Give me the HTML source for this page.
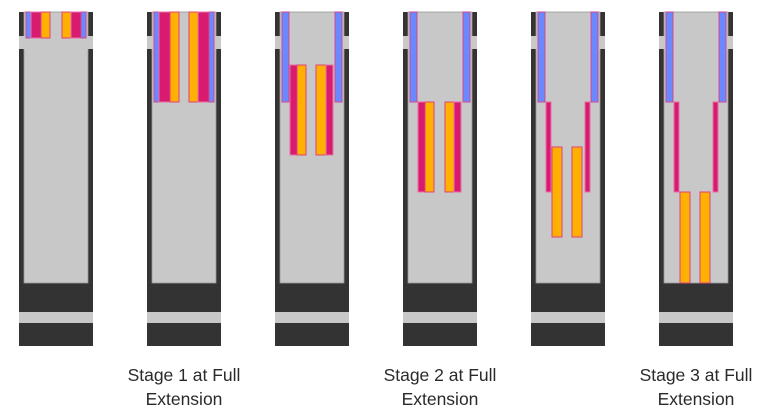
<!DOCTYPE html>
<html><head><meta charset="utf-8"><style>
body{margin:0;background:#fff;width:768px;height:418px;overflow:hidden}
svg{display:block}
text{font-family:"Liberation Sans",sans-serif;font-size:17.5px;fill:#2a2a2a}
</style></head><body>
<svg width="768" height="418" viewBox="0 0 768 418">
<defs>
<g id="frame">
<rect x="0" y="12" width="74" height="334" fill="#333"/>
<rect x="5" y="12" width="64" height="271" fill="#c8c8c8" stroke="#999" stroke-width="0.8"/>
<rect x="0" y="36" width="74" height="13" fill="#c8c8c8"/>
<rect x="0" y="312" width="74" height="11" fill="#c8c8c8"/>
</g>
</defs>
<g fill="none" stroke-width="1">
<g transform="translate(19,0)"><use href="#frame"/>
<rect x="7" y="12" width="5" height="26" fill="#6a88ff" stroke="#d04a90"/>
<rect x="12" y="12" width="10" height="26" fill="#d81b6f" stroke="#e870a8"/>
<rect x="22" y="12" width="9" height="26" fill="#ffb000" stroke="#e04080"/>
<rect x="43" y="12" width="9" height="26" fill="#ffb000" stroke="#e04080"/>
<rect x="52" y="12" width="10" height="26" fill="#d81b6f" stroke="#e870a8"/>
<rect x="62" y="12" width="5" height="26" fill="#6a88ff" stroke="#d04a90"/>
</g>
<g transform="translate(147,0)"><use href="#frame"/>
<rect x="7" y="12" width="5" height="90" fill="#6a88ff" stroke="#d04a90"/>
<rect x="12" y="12" width="11" height="90" fill="#d81b6f" stroke="#e870a8"/>
<rect x="23" y="12" width="9" height="90" fill="#ffb000" stroke="#e04080"/>
<rect x="42" y="12" width="9" height="90" fill="#ffb000" stroke="#e04080"/>
<rect x="51" y="12" width="11" height="90" fill="#d81b6f" stroke="#e870a8"/>
<rect x="62" y="12" width="5" height="90" fill="#6a88ff" stroke="#d04a90"/>
</g>
<g transform="translate(275,0)"><use href="#frame"/>
<rect x="7" y="12" width="7" height="90" fill="#6a88ff" stroke="#d04a90"/>
<rect x="60" y="12" width="7" height="90" fill="#6a88ff" stroke="#d04a90"/>
<rect x="15" y="65" width="7" height="90" fill="#d81b6f" stroke="#e870a8"/>
<rect x="22" y="65" width="9" height="90" fill="#ffb000" stroke="#e04080"/>
<rect x="41" y="65" width="10" height="90" fill="#ffb000" stroke="#e04080"/>
<rect x="51" y="65" width="7" height="90" fill="#d81b6f" stroke="#e870a8"/>
</g>
<g transform="translate(403,0)"><use href="#frame"/>
<rect x="7" y="12" width="7" height="90" fill="#6a88ff" stroke="#d04a90"/>
<rect x="60" y="12" width="7" height="90" fill="#6a88ff" stroke="#d04a90"/>
<rect x="15" y="102" width="7" height="90" fill="#d81b6f" stroke="#e870a8"/>
<rect x="22" y="102" width="9" height="90" fill="#ffb000" stroke="#e04080"/>
<rect x="42" y="102" width="9" height="90" fill="#ffb000" stroke="#e04080"/>
<rect x="51" y="102" width="7" height="90" fill="#d81b6f" stroke="#e870a8"/>
</g>
<g transform="translate(531,0)"><use href="#frame"/>
<rect x="7" y="12" width="7" height="90" fill="#6a88ff" stroke="#d04a90"/>
<rect x="60" y="12" width="7" height="90" fill="#6a88ff" stroke="#d04a90"/>
<rect x="15" y="102" width="5" height="90" fill="#d81b6f" stroke="#e870a8"/>
<rect x="54" y="102" width="5" height="90" fill="#d81b6f" stroke="#e870a8"/>
<rect x="21" y="147" width="10" height="90" fill="#ffb000" stroke="#e04080"/>
<rect x="41" y="147" width="10" height="90" fill="#ffb000" stroke="#e04080"/>
</g>
<g transform="translate(659,0)"><use href="#frame"/>
<rect x="7" y="12" width="7" height="90" fill="#6a88ff" stroke="#d04a90"/>
<rect x="60" y="12" width="7" height="90" fill="#6a88ff" stroke="#d04a90"/>
<rect x="15" y="102" width="5" height="90" fill="#d81b6f" stroke="#e870a8"/>
<rect x="54" y="102" width="5" height="90" fill="#d81b6f" stroke="#e870a8"/>
<rect x="21" y="192" width="10" height="91" fill="#ffb000" stroke="#e04080"/>
<rect x="41" y="192" width="10" height="91" fill="#ffb000" stroke="#e04080"/>
</g>
</g>
<g text-anchor="middle">
<text x="184" y="381">Stage 1 at Full</text><text x="184" y="405">Extension</text>
<text x="440" y="381">Stage 2 at Full</text><text x="440" y="405">Extension</text>
<text x="696" y="381">Stage 3 at Full</text><text x="696" y="405">Extension</text>
</g>
</svg>
</body></html>
